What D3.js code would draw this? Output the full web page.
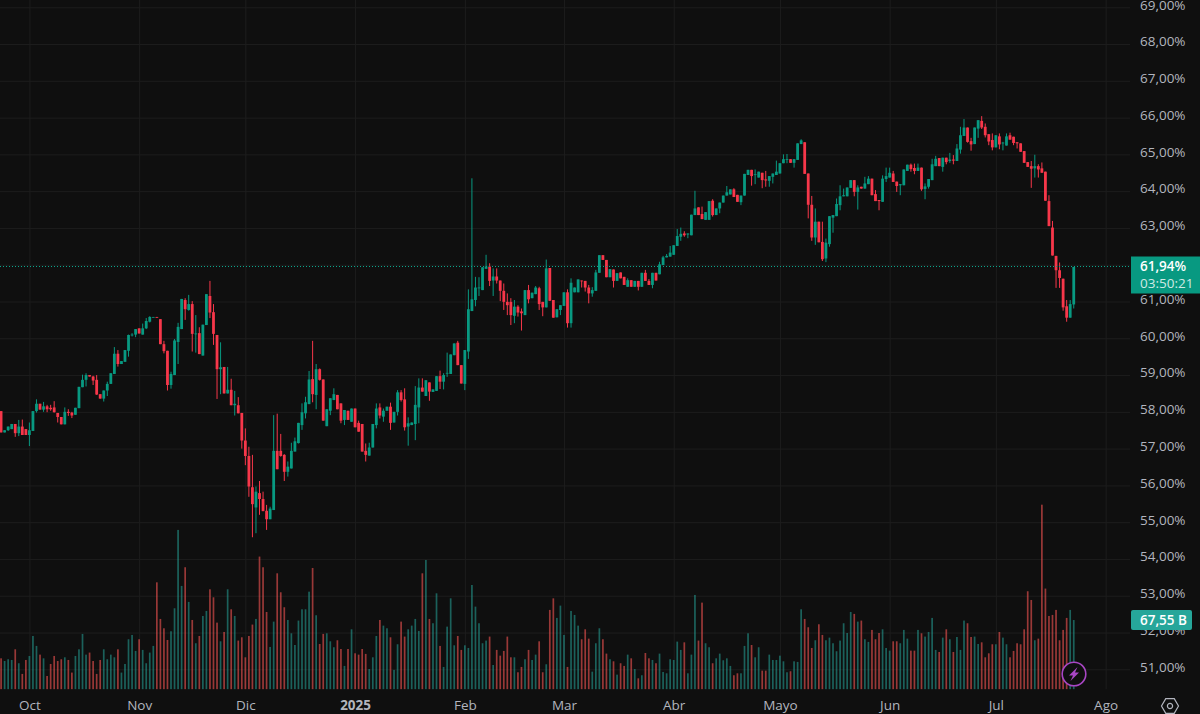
<!DOCTYPE html>
<html><head><meta charset="utf-8">
<script src="https://cdnjs.cloudflare.com/ajax/libs/d3/7.8.5/d3.min.js"></script>
<style>html,body{margin:0;padding:0;background:#0f0f0f;overflow:hidden}svg{display:block}
text{font-family:"Open Sans","Noto Sans",sans-serif}</style></head><body><svg id="c" width="1200" height="714"></svg>
<script>
const monthDates=["2024-10-01","2024-11-01","2024-12-01","2025-01-01","2025-02-01","2025-03-01","2025-04-01","2025-05-01","2025-06-01","2025-07-01","2025-08-01"];
const monthLabels=["Oct","Nov","Dic","2025","Feb","Mar","Abr","Mayo","Jun","Jul","Ago"];
const priceTicks=[51,52,53,54,55,56,57,58,59,60,61,62,63,64,65,66,67,68,69];
const priceLabelTicks=[51,52,53,54,55,56,57,58,59,60,61,63,64,65,66,67,68,69];
const lastPrice=61.94, lastVolume=67.55, countdown="03:50:21";
const opens=[58.02,57.44,57.5,57.53,57.67,57.42,57.6,57.53,57.37,57.48,
58.02,58.22,58.06,58.15,58.11,58.12,57.97,57.86,57.66,58.0,
57.98,57.92,58.1,58.67,58.87,59.0,58.96,58.87,58.48,58.36,
58.58,58.76,59.03,59.58,59.3,59.36,59.66,60.09,60.1,60.27,
60.1,60.27,60.45,60.57,60.58,60.52,59.84,59.66,58.73,59.0,
59.9,60.25,61.04,60.77,60.93,60.12,60.14,59.53,60.36,61.15,
60.71,60.09,59.16,59.22,58.5,58.6,58.18,58.18,57.97,57.22,
56.8,55.95,55.4,55.79,55.63,55.31,55.08,55.33,56.94,56.94,
56.83,56.37,56.46,56.92,57.15,57.64,57.96,58.21,58.89,58.46,
59.16,58.88,57.61,58.03,58.32,58.46,58.23,57.78,58.03,57.73,
58.09,57.7,57.67,56.94,56.81,57.03,57.64,58.12,57.87,58.03,
58.14,57.71,58.0,58.53,58.34,57.6,57.64,57.67,58.12,58.66,
58.43,58.8,58.54,58.57,58.97,58.82,59.05,59.03,59.54,59.88,
59.27,58.76,59.64,60.74,61.04,61.36,61.31,61.89,61.95,61.57,
61.68,61.57,61.29,60.99,60.99,60.61,60.86,60.73,60.63,61.31,
61.09,61.2,61.36,60.99,60.84,61.91,61.04,60.57,60.77,60.88,
61.25,60.41,61.25,61.25,61.57,61.56,61.38,61.22,61.29,61.78,
62.26,62.13,61.66,61.87,61.56,61.79,61.67,61.4,61.58,61.4,
61.56,61.4,61.78,61.56,61.45,61.78,61.74,61.99,62.2,62.22,
62.27,62.51,62.76,62.85,62.82,62.8,63.35,63.56,63.38,63.22,
63.22,63.74,63.35,63.53,63.69,63.88,63.91,64.05,63.9,63.7,
63.88,64.44,64.58,64.44,64.37,64.5,64.32,64.28,64.39,64.44,
64.48,64.76,64.85,64.87,64.77,64.85,65.28,65.33,64.48,63.63,
62.74,63.17,62.62,62.17,62.56,63.28,63.32,63.62,63.86,63.86,
64.09,64.3,63.98,64.12,64.07,64.19,64.34,63.92,63.76,63.71,
64.33,64.37,64.48,64.26,64.16,64.16,64.55,64.72,64.63,64.55,
64.64,64.06,64.12,64.3,64.68,64.9,64.66,64.91,64.82,64.86,
64.82,65.13,65.5,65.73,65.36,65.28,65.7,65.91,65.75,65.55,
65.39,65.19,65.49,65.3,65.24,65.52,65.48,65.33,65.3,65.09,
64.79,64.68,64.62,64.68,64.62,64.53,63.73,63.01,62.24,61.85,
61.62,60.87,60.56,60.92];
const highs=[58.02,57.5,57.6,57.67,57.67,57.78,57.79,57.53,57.71,58.02,
58.34,58.22,58.27,58.19,58.19,58.29,57.97,57.86,58.12,58.07,
58.0,58.11,58.68,59.01,59.05,59.0,58.98,59.0,58.48,58.58,
58.82,59.05,59.76,59.68,59.38,59.68,60.1,60.14,60.25,60.27,
60.4,60.55,60.6,60.58,60.58,60.52,59.93,59.66,59.09,59.98,
60.42,61.07,61.09,61.18,61.01,60.63,60.3,60.37,61.2,61.56,
60.93,60.09,59.89,59.22,59.22,58.9,58.57,58.4,57.97,57.55,
57.05,56.83,55.97,56.12,55.83,55.47,55.42,57.91,57.95,57.4,
56.85,56.65,57.16,57.3,57.7,58.23,58.41,59.11,59.93,59.3,
59.18,58.88,58.07,58.37,58.64,58.46,58.23,58.05,58.03,58.09,
58.09,57.76,57.67,57.14,57.16,57.67,58.23,58.23,58.09,58.14,
58.25,58.0,58.59,58.59,58.64,57.85,57.71,58.7,58.91,58.91,
58.86,58.8,58.61,58.97,59.12,59.05,59.61,59.56,59.86,59.93,
59.27,59.68,61.33,64.35,61.67,61.66,61.93,62.27,62.04,61.9,
61.9,61.57,61.49,61.22,61.09,61.04,60.9,60.81,61.31,61.45,
61.24,61.42,61.4,60.99,62.14,61.91,61.04,60.79,60.9,61.25,
61.33,61.63,61.38,61.6,61.57,61.56,61.45,61.39,61.86,62.26,
62.26,62.13,61.88,61.87,61.77,61.79,61.67,61.63,61.58,61.56,
61.56,61.78,61.86,61.61,61.78,61.78,62.08,62.24,62.29,62.51,
62.53,62.97,63.01,62.91,62.85,63.36,64.01,63.56,63.58,63.43,
63.73,63.78,63.53,63.69,63.88,64.14,64.05,64.08,63.9,63.88,
64.47,64.58,64.58,64.59,64.53,64.5,64.55,64.41,64.48,64.83,
64.76,65.0,65.01,64.87,64.87,65.3,65.41,65.33,64.48,63.87,
63.53,63.17,63.17,62.71,63.32,63.35,63.8,64.16,64.07,64.1,
64.3,64.3,64.16,64.12,64.39,64.41,64.34,64.03,63.76,64.43,
64.64,64.64,64.55,64.26,64.19,64.59,64.72,64.75,64.75,64.75,
64.64,64.21,64.33,64.88,64.96,64.9,64.91,64.91,65.04,64.98,
65.28,65.75,65.96,65.73,65.45,65.73,65.93,66.04,65.84,65.55,
65.57,65.52,65.57,65.34,65.57,65.59,65.48,65.33,65.3,65.09,
64.79,64.82,64.99,64.73,64.78,64.53,63.89,63.19,62.24,62.06,
61.62,61.04,61.04,61.94];
const lows=[57.44,57.44,57.48,57.53,57.32,57.34,57.37,57.37,57.07,57.48,
57.98,58.06,58.0,57.99,58.03,57.98,57.71,57.66,57.66,57.89,
57.83,57.92,58.1,58.67,58.69,58.96,58.73,58.46,58.36,58.28,
58.43,58.76,59.03,59.23,59.3,59.36,59.5,60.05,60.03,60.13,
60.1,60.25,60.43,60.57,60.56,59.84,59.59,58.58,58.63,59.0,
59.3,60.25,60.5,60.75,59.64,59.61,59.57,59.53,60.36,60.55,
59.82,58.35,58.48,58.5,58.5,58.18,57.9,57.96,57.0,56.55,
55.69,54.59,54.7,55.2,55.3,54.79,55.08,55.33,56.44,56.78,
56.12,56.24,56.46,56.92,57.14,57.51,57.82,58.21,58.26,58.07,
58.85,57.76,57.61,57.91,58.32,58.07,57.69,57.64,57.78,57.73,
57.58,57.46,56.92,56.65,56.81,57.03,57.55,57.82,57.73,58.03,
57.51,57.71,57.9,58.28,57.49,57.08,57.64,57.23,57.69,58.55,
58.43,58.3,58.54,58.57,58.62,58.61,58.95,59.03,59.54,59.27,
58.77,58.59,59.44,60.74,60.87,61.15,61.31,61.89,61.42,61.15,
61.49,61.01,60.77,60.63,60.36,60.41,60.59,60.21,60.63,60.95,
61.09,61.2,60.77,60.6,60.84,61.02,60.56,60.57,60.63,60.88,
60.29,60.29,61.25,61.25,61.38,61.27,60.95,61.13,61.29,61.78,
62.13,61.66,61.66,61.38,61.56,61.63,61.45,61.4,61.4,61.4,
61.3,61.4,61.56,61.45,61.36,61.57,61.74,61.99,62.2,62.22,
62.27,62.51,62.65,62.76,62.72,62.8,63.35,63.35,63.24,63.22,
63.22,63.31,63.35,63.4,63.69,63.88,63.91,63.84,63.71,63.62,
63.88,64.44,64.15,64.19,64.37,64.08,64.12,64.12,64.21,64.44,
64.48,64.76,64.76,64.77,64.64,64.85,65.28,64.47,63.26,62.65,
62.54,62.61,62.1,62.07,62.49,62.87,63.32,63.48,63.86,63.86,
64.09,63.86,63.5,64.07,64.07,64.19,63.89,63.73,63.48,63.71,
64.25,64.37,64.25,63.98,63.89,64.16,64.55,64.53,64.46,64.55,
64.01,63.78,64.07,64.3,64.68,64.68,64.53,64.73,64.77,64.73,
64.82,65.02,65.5,65.32,65.1,65.28,65.45,65.69,65.46,65.25,
65.11,65.19,65.14,65.11,65.24,65.4,65.25,65.16,65.07,64.77,
64.66,64.09,64.37,64.37,64.5,63.74,63.05,62.25,61.37,61.37,
60.75,60.45,60.56,60.81];
const closes=[57.44,57.5,57.6,57.67,57.42,57.6,57.37,57.37,57.5,58.02,
58.22,58.06,58.15,58.07,58.07,57.99,57.86,57.66,58.0,57.97,
57.9,58.11,58.68,58.87,59.0,58.96,58.85,58.47,58.36,58.58,
58.76,59.05,59.58,59.3,59.38,59.68,60.09,60.1,60.25,60.13,
60.27,60.47,60.58,60.58,60.56,59.84,59.65,58.73,59.03,59.94,
60.31,61.07,60.79,60.93,60.12,60.13,59.57,60.37,61.2,60.7,
60.12,59.16,59.21,58.5,58.6,58.18,58.22,57.96,57.22,56.8,
55.97,55.49,55.83,55.63,55.3,55.08,55.37,56.94,56.44,56.8,
56.37,56.51,56.94,57.2,57.7,57.99,58.26,58.88,58.48,59.16,
58.87,57.76,58.07,58.37,58.48,58.07,57.76,58.05,57.78,58.09,
57.58,57.46,56.92,56.83,57.03,57.67,58.09,57.9,58.03,58.14,
57.7,58.0,58.53,58.32,57.58,57.69,57.71,58.19,58.66,58.55,
58.86,58.55,58.61,58.97,58.82,59.0,59.06,59.56,59.86,59.27,
58.77,59.68,60.79,61.06,61.38,61.38,61.93,61.95,61.56,61.68,
61.57,61.29,60.99,60.9,60.63,60.86,60.7,60.68,61.31,61.06,
61.24,61.38,60.93,60.84,61.9,61.02,60.56,60.79,60.9,61.25,
60.41,61.51,61.38,61.6,61.56,61.38,61.22,61.31,61.79,62.26,
62.13,61.66,61.88,61.56,61.77,61.63,61.45,61.58,61.4,61.56,
61.4,61.78,61.56,61.45,61.78,61.57,62.01,62.2,62.24,62.33,
62.53,62.78,62.84,62.8,62.85,63.36,63.53,63.35,63.24,63.43,
63.73,63.35,63.53,63.69,63.88,63.97,64.05,63.84,63.71,63.88,
64.47,64.58,64.41,64.46,64.53,64.3,64.29,64.41,64.48,64.53,
64.76,64.87,64.87,64.77,64.87,65.3,65.38,64.47,63.63,62.74,
63.17,62.61,62.15,62.6,63.32,63.35,63.65,63.86,63.89,64.1,
64.3,63.98,64.1,64.07,64.21,64.34,63.89,63.73,63.73,64.34,
64.41,64.5,64.25,64.14,64.19,64.59,64.72,64.6,64.55,64.64,
64.05,64.13,64.33,64.73,64.88,64.68,64.91,64.79,64.86,64.83,
65.16,65.52,65.73,65.34,65.27,65.73,65.93,65.73,65.52,65.35,
65.19,65.52,65.27,65.32,65.49,65.4,65.31,65.3,65.07,64.77,
64.66,64.61,64.68,64.59,64.5,63.74,63.05,62.25,61.85,61.64,
60.84,60.56,60.93,61.94];
const volumes=[30.2,27.6,29.3,28.6,39,25.4,15,28.6,32.5,52,
42.3,33.8,30.2,13,24.7,32.5,27.6,29.3,31.2,28.6,
16.3,32.5,39,54,33.8,35.8,27.6,15,28.6,39,
29.3,33.8,31.2,39,16.3,24.7,48.8,53,37.4,48.8,
38.4,25.4,35.8,42.3,104.3,68.6,59.5,48.1,56.6,79,
155.4,100.8,119,85.2,67.6,44.9,52,71.5,76.4,97.5,
89.7,65,46.8,55.9,97.5,78,71.5,47.5,50.7,31.2,
52,63.1,68.6,129.4,119,75.4,41.3,66,113.1,94.6,
80,67.6,54.6,43.2,67,78,78,95.2,118.3,72.2,
44.2,54,54.6,46.8,41,47.8,39.3,22.8,39.3,58.5,
35.1,33.8,39.3,34.5,19.8,31.2,52,67.6,62.1,59.5,
50.7,18.9,43.9,66,51.4,58.5,62.1,68.6,56.9,113.1,
126.1,68.6,64.4,93.6,42.3,21.8,61.1,88.7,42.9,52,
38.4,42.9,40.3,101.7,80.6,64.4,44.9,47.5,51.4,23.7,
38.4,32.8,37.4,51.4,31.2,31.2,16.6,21.8,29.3,38.4,
28.6,33.8,46.8,16.6,24.4,77.4,88.7,69.6,81.6,53,
21.8,76.4,72.5,62.1,48.8,58.5,49.4,17.2,44.9,59.5,
48.8,34.8,29.3,27.3,14.3,25.4,22.8,33.8,30.2,19.8,
10.7,13.7,35.4,30.2,28.6,25.4,34.8,16.9,15.6,29.3,
28.6,46.5,38.4,45.8,15.6,33.8,92,47.5,84.5,44.9,
41,25.4,30.2,34.8,28.3,30.2,22.8,13.7,15.6,15.6,
42.3,54.6,43.2,31.2,41,18.2,18.2,33.8,28.6,28.6,
32.8,27.3,16.6,17.6,27.3,26.7,78,68.6,60.5,40.3,
47.8,63.4,53,47.8,50.4,44.9,37.1,47.5,64.4,54.9,
75.4,73.5,66,67,48.8,46.2,57.9,48.8,54.9,58.5,
40.3,37.7,46.8,46.8,44.9,57.9,49.4,37.7,37.7,57.9,
54.6,51.4,55.9,69.6,38.4,36.4,50.4,58.5,48.8,36.4,
51,38.4,67,64.4,51,51.4,44.2,45.8,31.2,35.1,
43.9,43.9,55.9,50.4,43.9,31.2,37.4,44.9,43.9,58.5,
95.6,87.1,47.8,49.4,180,98.2,71.5,72.5,77.4,47.8,
57.9,69.6,77.4,67.55];
const firstDay=Date.UTC(2024,8,23), dayMs=864e5;

const UP="#089981", DOWN="#f7374a", BG="#0f0f0f", GRID="#1d1d1d", TXT="#b2b5be";
const W=1200,H=714,plotR=1130;
const svg=d3.select("#c");
const parse=d3.utcParse("%Y-%m-%d"), months=monthDates.map(parse);
const x=d3.scaleUtc().domain([months[0],months[months.length-1]]).range([29.4,1105.6]);
const y=d3.scaleLinear().domain([51,69]).range([669.3,7.26]);
const vy=d3.scaleLinear().domain([0,180]).range([689.3,689.3-180/0.975]);
const loc=d3.formatLocale({decimal:",",thousands:".",grouping:[3],currency:["",""]});
const fp=v=>loc.format(".2f")(v)+"%";
const dateOf=i=>new Date(firstDay+i*dayMs);
const idx=d3.range(opens.length);
svg.append("rect").attr("width",W).attr("height",H).attr("fill",BG);
svg.append("defs").append("clipPath").attr("id","plot").append("rect").attr("width",plotR).attr("height",689.5);

// grid
const gy=svg.append("g").attr("transform",`translate(${plotR},0)`).call(d3.axisLeft(y).tickValues(priceTicks).tickSize(plotR).tickFormat(""));
const gx=svg.append("g").attr("clip-path","url(#plot)").append("g").attr("transform","translate(0,689.5)").call(d3.axisTop(x).tickValues(months).tickSize(689.5).tickFormat(""));
[gy,gx].forEach(g=>{g.select(".domain").remove();g.selectAll("line").attr("stroke",GRID).attr("stroke-width",1);});

const plot=svg.append("g").attr("clip-path","url(#plot)");
// volume
plot.append("g").selectAll("rect").data(idx).join("rect")
 .attr("x",i=>x(dateOf(i))-0.85).attr("width",1.7)
 .attr("y",i=>vy(volumes[i])).attr("height",i=>vy(0)-vy(volumes[i]))
 .attr("fill",i=>closes[i]>=opens[i]?"rgba(38,166,154,.55)":"rgba(239,83,80,.62)");
// wicks
plot.append("g").selectAll("line").data(idx).join("line")
 .attr("x1",i=>x(dateOf(i))).attr("x2",i=>x(dateOf(i)))
 .attr("y1",i=>y(highs[i])).attr("y2",i=>y(lows[i]))
 .attr("stroke",i=>closes[i]>=opens[i]?UP:DOWN).attr("stroke-width",1);
// bodies
plot.append("g").selectAll("rect").data(idx).join("rect")
 .attr("x",i=>x(dateOf(i))-1.4).attr("width",2.8)
 .attr("y",i=>y(Math.max(opens[i],closes[i])))
 .attr("height",i=>Math.max(0.8,Math.abs(y(opens[i])-y(closes[i]))))
 .attr("fill",i=>closes[i]>=opens[i]?UP:DOWN);
// last price line
const lastY=Math.floor(y(lastPrice))+.5;
svg.append("line").attr("x1",0).attr("x2",plotR).attr("y1",lastY).attr("y2",lastY)
 .attr("stroke","#0ba58c").attr("stroke-width",1).attr("stroke-dasharray","1 2");

// price axis
const ay=svg.append("g").attr("transform","translate(1140,-2.5)").call(d3.axisRight(y).tickValues(priceLabelTicks).tickSize(0).tickPadding(0).tickFormat(fp));
ay.select(".domain").remove();
ay.selectAll("text").attr("fill",TXT).attr("font-size",13.5);
// time axis
const ax=svg.append("g").attr("transform","translate(0,700)").call(d3.axisBottom(x).tickValues(months).tickSize(0).tickPadding(0).tickFormat((d,i)=>monthLabels[i]));
ax.select(".domain").remove();
ax.selectAll("text").attr("fill",TXT).attr("font-size",13.5)
 .attr("font-weight",(d,i)=>monthLabels[i]==="2025"?700:400);

// last price tag
svg.append("rect").attr("x",1131).attr("y",256.5).attr("width",69).attr("height",37).attr("fill",UP);
svg.append("text").attr("x",1140).attr("y",270.5).attr("fill","#fff").attr("font-size",13.5).attr("font-weight",600).text(fp(lastPrice));
svg.append("text").attr("x",1140).attr("y",288).attr("fill","#cfe9e4").attr("font-size",13.5).text(countdown);
// volume tag
svg.append("rect").attr("x",1131).attr("y",610).attr("width",61).attr("height",20).attr("rx",2).attr("fill","#26a69a");
svg.append("text").attr("x",1140).attr("y",625).attr("fill","#fff").attr("font-size",13.5).attr("font-weight",600).text(loc.format(".2f")(lastVolume)+" B");

// flash icon
const ic=svg.append("g").attr("transform","translate(1074,674)");
ic.append("circle").attr("r",11.8).attr("fill",BG).attr("stroke","#a846c4").attr("stroke-width",1.6);
ic.append("path").attr("d","M3.5,-7 L-5,1.5 L-1,1.5 L-3.5,7 L5,-1.5 L1,-1.5 Z").attr("fill","#a846c4");
// settings icon
const st=svg.append("g").attr("transform","translate(1170,706)");
st.append("path").attr("d",d3.line()(d3.range(6).map(k=>[8.5*Math.cos(k*Math.PI/3),8.5*Math.sin(k*Math.PI/3)]))+"Z").attr("fill","none").attr("stroke",TXT).attr("stroke-width",1.2);
st.append("circle").attr("r",2.6).attr("fill","none").attr("stroke",TXT).attr("stroke-width",1.2);
</script></body></html>
